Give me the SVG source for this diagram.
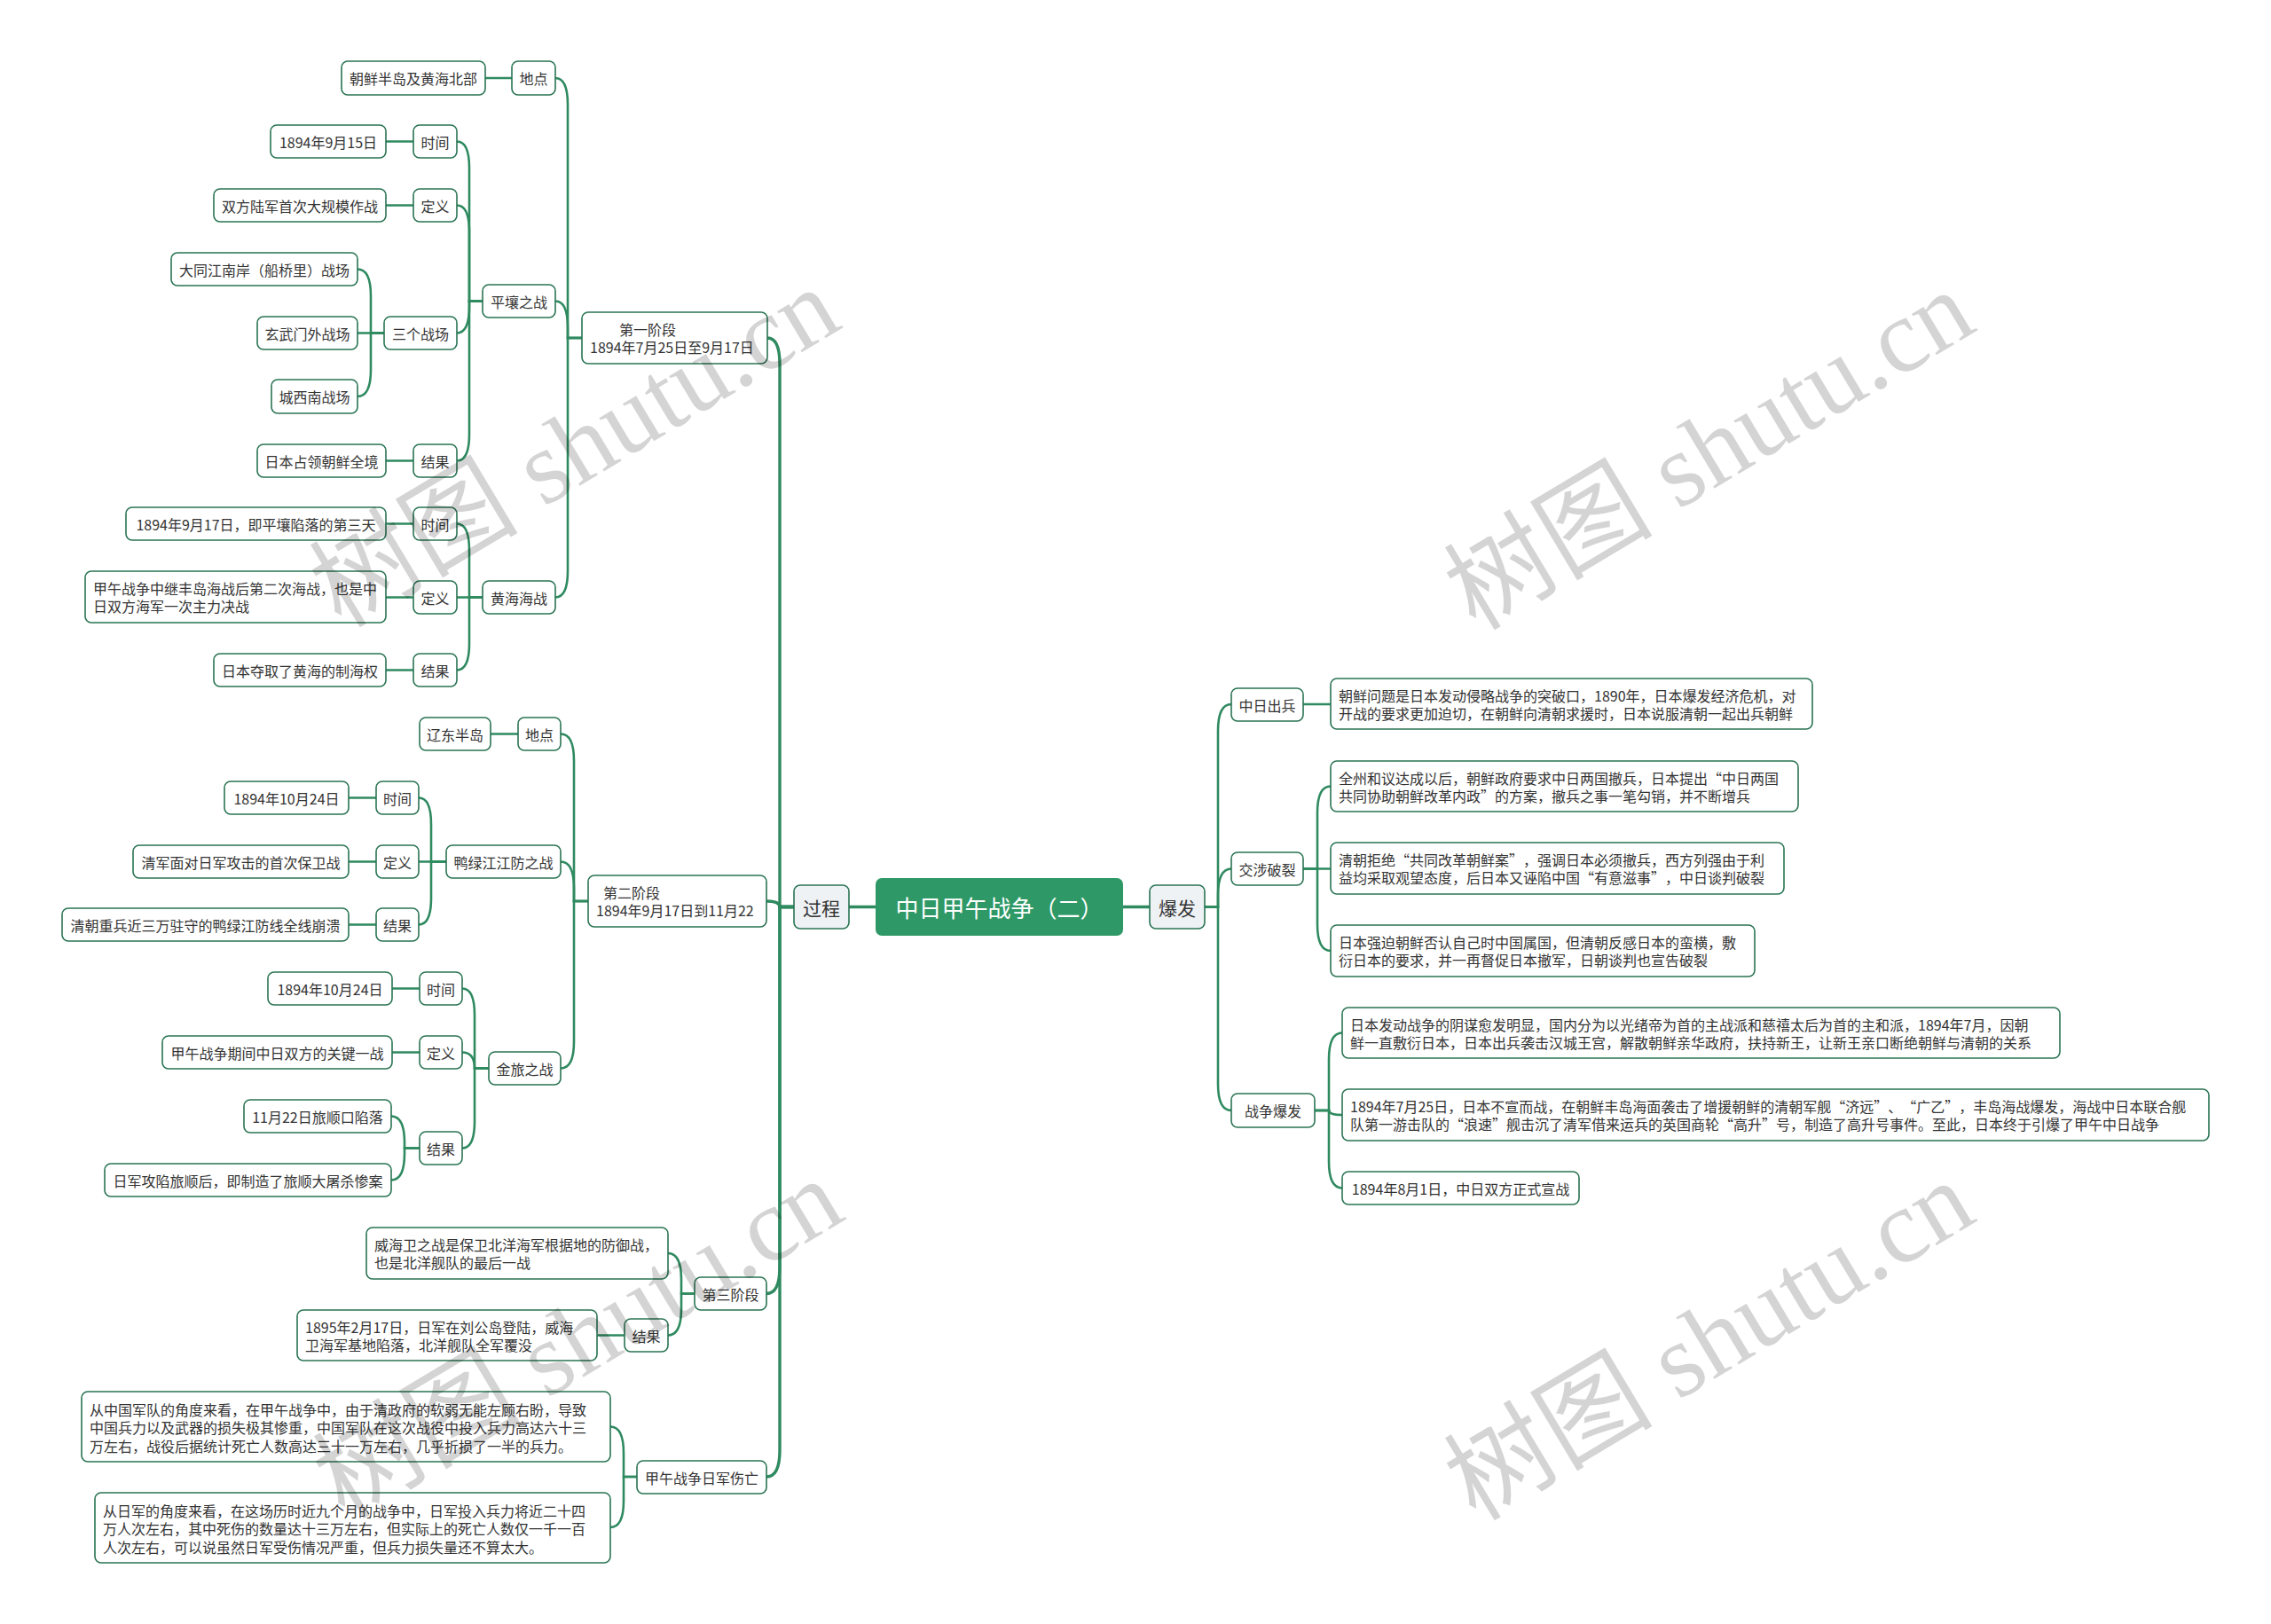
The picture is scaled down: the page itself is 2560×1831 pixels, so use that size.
<svg xmlns="http://www.w3.org/2000/svg" width="2560" height="1831" viewBox="0 0 2560 1831">
<style>
.n{fill:#fff;stroke:#2a7453;stroke-width:1.6}
.g{fill:#eef2f5;stroke:#2a7453;stroke-width:1.6}
.r{fill:#2e9966;stroke:none}
.t{font-family:"Noto Sans CJK SC","Microsoft YaHei",sans-serif;font-size:16px;fill:#333;dominant-baseline:central;text-spacing-trim:space-all}
.c{text-anchor:middle}
.tl{font-size:21px}
.tr{font-size:26px;fill:#fff}
.ln{fill:none;stroke:#2f8a60;stroke-width:2.6;stroke-linecap:round}
.lm{stroke-width:3.4}
.wm{font-family:"Liberation Serif","Noto Sans CJK SC",serif;font-size:118px;fill:#000;fill-opacity:0.17;text-anchor:middle;dominant-baseline:central}
</style>
<rect width="2560" height="1831" fill="#fff"/>
<g id="connectors">
<path class="ln lm" d="M987,1022.5 H957"/>
<path class="ln lm" d="M1266,1022.5 H1296"/>
<path class="ln lm" d="M895,1022.5 H879 V411 Q879,381 865,381"/>
<path class="ln lm" d="M895,1022.5 H879 Q879,1016 864,1016"/>
<path class="ln lm" d="M895,1022.5 H879 V1428.5 Q879,1458.5 864,1458.5"/>
<path class="ln lm" d="M895,1022.5 H879 V1635 Q879,1665 864,1665"/>
<path class="ln" d="M656,381 H640 V118 Q640,88 626,88"/>
<path class="ln" d="M656,381 H640 V369.5 Q640,339.5 626,339.5"/>
<path class="ln" d="M656,381 H640 V643.5 Q640,673.5 626,673.5"/>
<path class="ln" d="M577,88 H547"/>
<path class="ln" d="M544,339.5 H529 V189.5 Q529,159.5 515,159.5"/>
<path class="ln" d="M544,339.5 H529 V261.5 Q529,231.5 515,231.5"/>
<path class="ln" d="M544,339.5 H529 V345.5 Q529,375.5 515,375.5"/>
<path class="ln" d="M544,339.5 H529 V489.5 Q529,519.5 515,519.5"/>
<path class="ln" d="M466,159.5 H435"/>
<path class="ln" d="M466,231.5 H435"/>
<path class="ln" d="M433,375.5 H418 V333.5 Q418,303.5 403,303.5"/>
<path class="ln" d="M433,375.5 H403"/>
<path class="ln" d="M433,375.5 H418 V417 Q418,447 403,447"/>
<path class="ln" d="M466,519.5 H435"/>
<path class="ln" d="M544,673.5 H529 V620.5 Q529,590.5 515,590.5"/>
<path class="ln" d="M544,673.5 H515"/>
<path class="ln" d="M544,673.5 H529 V725.5 Q529,755.5 515,755.5"/>
<path class="ln" d="M466,590.5 H435"/>
<path class="ln" d="M466,673.5 H435"/>
<path class="ln" d="M466,755.5 H435"/>
<path class="ln" d="M663,1016 H647 V857.5 Q647,827.5 632,827.5"/>
<path class="ln" d="M663,1016 H647 V1001.5 Q647,971.5 632,971.5"/>
<path class="ln" d="M663,1016 H647 V1174.5 Q647,1204.5 632,1204.5"/>
<path class="ln" d="M584,827.5 H553"/>
<path class="ln" d="M503,971.5 H486 V929.5 Q486,899.5 472,899.5"/>
<path class="ln" d="M503,971.5 H472"/>
<path class="ln" d="M503,971.5 H486 V1012.5 Q486,1042.5 472,1042.5"/>
<path class="ln" d="M424,899.5 H393"/>
<path class="ln" d="M424,971.5 H393"/>
<path class="ln" d="M424,1042.5 H393"/>
<path class="ln" d="M551,1204.5 H535 V1144.5 Q535,1114.5 521,1114.5"/>
<path class="ln" d="M551,1204.5 H535 Q535,1186.5 521,1186.5"/>
<path class="ln" d="M551,1204.5 H535 V1264.5 Q535,1294.5 521,1294.5"/>
<path class="ln" d="M473,1114.5 H442"/>
<path class="ln" d="M473,1186.5 H442"/>
<path class="ln" d="M473,1294.5 H456 V1288.5 Q456,1258.5 441,1258.5"/>
<path class="ln" d="M473,1294.5 H456 V1300.5 Q456,1330.5 441,1330.5"/>
<path class="ln" d="M783,1458.5 H768 V1443 Q768,1413 753,1413"/>
<path class="ln" d="M783,1458.5 H768 V1475.5 Q768,1505.5 753,1505.5"/>
<path class="ln" d="M704,1505.5 H673"/>
<path class="ln" d="M718,1665 H703 V1638.5 Q703,1608.5 688,1608.5"/>
<path class="ln" d="M718,1665 H703 V1692 Q703,1722 688,1722"/>
<path class="ln" d="M1358,1022.5 H1373 V824 Q1373,794 1388,794"/>
<path class="ln" d="M1358,1022.5 H1373 V1009.5 Q1373,979.5 1388,979.5"/>
<path class="ln" d="M1358,1022.5 H1373 V1222 Q1373,1252 1388,1252"/>
<path class="ln" d="M1469,794 H1500"/>
<path class="ln" d="M1469,979.5 H1485 V916.5 Q1485,886.5 1500,886.5"/>
<path class="ln" d="M1469,979.5 H1500"/>
<path class="ln" d="M1469,979.5 H1485 V1042 Q1485,1072 1500,1072"/>
<path class="ln" d="M1482,1252 H1498 V1194.5 Q1498,1164.5 1513,1164.5"/>
<path class="ln" d="M1482,1252 H1498 Q1498,1257 1513,1257"/>
<path class="ln" d="M1482,1252 H1498 V1309.5 Q1498,1339.5 1513,1339.5"/>
</g>
<g id="root"><rect class="r" x="987" y="990" width="279" height="65" rx="7"/><text class="t tr c" x="1126.5" y="1022.5">中日甲午战争（二）</text></g>
<g id="guocheng"><rect class="g" x="895" y="998" width="62" height="49" rx="7"/><text class="t tl c" x="926" y="1022.5">过程</text></g>
<g id="baofa"><rect class="g" x="1296" y="998" width="62" height="49" rx="7"/><text class="t tl c" x="1327" y="1022.5">爆发</text></g>

<g id="p1"><rect class="n" x="656" y="352" width="209" height="58" rx="7"/><text class="t"><tspan x="698" y="371">第一阶段</tspan><tspan x="665" y="391">1894年7月25日至9月17日</tspan></text></g>
<g id="p1-dd"><rect class="n" x="577" y="69" width="49" height="38" rx="7"/><text class="t c" x="601.5" y="88">地点</text></g>
<g id="p1-dd-1"><rect class="n" x="385" y="69" width="162" height="38" rx="7"/><text class="t c" x="466" y="88">朝鲜半岛及黄海北部</text></g>
<g id="py"><rect class="n" x="544" y="321" width="82" height="37" rx="7"/><text class="t c" x="585" y="339.5">平壤之战</text></g>
<g id="py-sj"><rect class="n" x="466" y="141" width="49" height="37" rx="7"/><text class="t c" x="490.5" y="159.5">时间</text></g>
<g id="py-sj-1"><rect class="n" x="305" y="141" width="130" height="37" rx="7"/><text class="t c" x="370" y="159.5">1894年9月15日</text></g>
<g id="py-dy"><rect class="n" x="466" y="213" width="49" height="37" rx="7"/><text class="t c" x="490.5" y="231.5">定义</text></g>
<g id="py-dy-1"><rect class="n" x="241" y="213" width="194" height="37" rx="7"/><text class="t c" x="338" y="231.5">双方陆军首次大规模作战</text></g>
<g id="py-zc"><rect class="n" x="433" y="357" width="82" height="37" rx="7"/><text class="t c" x="474" y="375.5">三个战场</text></g>
<g id="py-zc-1"><rect class="n" x="193" y="285" width="210" height="37" rx="7"/><text class="t c" x="298" y="303.5">大同江南岸（船桥里）战场</text></g>
<g id="py-zc-2"><rect class="n" x="290" y="357" width="113" height="37" rx="7"/><text class="t c" x="346.5" y="375.5">玄武门外战场</text></g>
<g id="py-zc-3"><rect class="n" x="306" y="428" width="97" height="38" rx="7"/><text class="t c" x="354.5" y="447">城西南战场</text></g>
<g id="py-jg"><rect class="n" x="466" y="501" width="49" height="37" rx="7"/><text class="t c" x="490.5" y="519.5">结果</text></g>
<g id="py-jg-1"><rect class="n" x="290" y="501" width="145" height="37" rx="7"/><text class="t c" x="362.5" y="519.5">日本占领朝鲜全境</text></g>
<g id="hh"><rect class="n" x="544" y="655" width="82" height="37" rx="7"/><text class="t c" x="585" y="673.5">黄海海战</text></g>
<g id="hh-sj"><rect class="n" x="466" y="572" width="49" height="37" rx="7"/><text class="t c" x="490.5" y="590.5">时间</text></g>
<g id="hh-sj-1"><rect class="n" x="142" y="572" width="293" height="37" rx="7"/><text class="t c" x="288.5" y="590.5">1894年9月17日，即平壤陷落的第三天</text></g>
<g id="hh-dy"><rect class="n" x="466" y="655" width="49" height="37" rx="7"/><text class="t c" x="490.5" y="673.5">定义</text></g>
<g id="hh-dy-1"><rect class="n" x="96" y="644" width="339" height="58" rx="7"/><text class="t"><tspan x="105" y="663">甲午战争中继丰岛海战后第二次海战，也是中</tspan><tspan x="105" y="683">日双方海军一次主力决战</tspan></text></g>
<g id="hh-jg"><rect class="n" x="466" y="737" width="49" height="37" rx="7"/><text class="t c" x="490.5" y="755.5">结果</text></g>
<g id="hh-jg-1"><rect class="n" x="241" y="737" width="194" height="37" rx="7"/><text class="t c" x="338" y="755.5">日本夺取了黄海的制海权</text></g>

<g id="p2"><rect class="n" x="663" y="987" width="201" height="58" rx="7"/><text class="t"><tspan x="680" y="1006">第二阶段</tspan><tspan x="672" y="1026">1894年9月17日到11月22</tspan></text></g>
<g id="p2-dd"><rect class="n" x="584" y="809" width="48" height="37" rx="7"/><text class="t c" x="608" y="827.5">地点</text></g>
<g id="p2-dd-1"><rect class="n" x="473" y="809" width="80" height="37" rx="7"/><text class="t c" x="513" y="827.5">辽东半岛</text></g>
<g id="yl"><rect class="n" x="503" y="953" width="129" height="37" rx="7"/><text class="t c" x="567.5" y="971.5">鸭绿江江防之战</text></g>
<g id="yl-sj"><rect class="n" x="424" y="881" width="48" height="37" rx="7"/><text class="t c" x="448" y="899.5">时间</text></g>
<g id="yl-sj-1"><rect class="n" x="253" y="881" width="140" height="37" rx="7"/><text class="t c" x="323" y="899.5">1894年10月24日</text></g>
<g id="yl-dy"><rect class="n" x="424" y="953" width="48" height="37" rx="7"/><text class="t c" x="448" y="971.5">定义</text></g>
<g id="yl-dy-1"><rect class="n" x="150" y="953" width="243" height="37" rx="7"/><text class="t c" x="271.5" y="971.5">清军面对日军攻击的首次保卫战</text></g>
<g id="yl-jg"><rect class="n" x="424" y="1024" width="48" height="37" rx="7"/><text class="t c" x="448" y="1042.5">结果</text></g>
<g id="yl-jg-1"><rect class="n" x="70" y="1024" width="323" height="37" rx="7"/><text class="t c" x="231.5" y="1042.5">清朝重兵近三万驻守的鸭绿江防线全线崩溃</text></g>
<g id="jl"><rect class="n" x="551" y="1186" width="81" height="37" rx="7"/><text class="t c" x="591.5" y="1204.5">金旅之战</text></g>
<g id="jl-sj"><rect class="n" x="473" y="1096" width="48" height="37" rx="7"/><text class="t c" x="497" y="1114.5">时间</text></g>
<g id="jl-sj-1"><rect class="n" x="302" y="1096" width="140" height="37" rx="7"/><text class="t c" x="372" y="1114.5">1894年10月24日</text></g>
<g id="jl-dy"><rect class="n" x="473" y="1168" width="48" height="37" rx="7"/><text class="t c" x="497" y="1186.5">定义</text></g>
<g id="jl-dy-1"><rect class="n" x="183" y="1168" width="259" height="37" rx="7"/><text class="t c" x="312.5" y="1186.5">甲午战争期间中日双方的关键一战</text></g>
<g id="jl-jg"><rect class="n" x="473" y="1276" width="48" height="37" rx="7"/><text class="t c" x="497" y="1294.5">结果</text></g>
<g id="jl-jg-1"><rect class="n" x="275" y="1240" width="166" height="37" rx="7"/><text class="t c" x="358" y="1258.5">11月22日旅顺口陷落</text></g>
<g id="jl-jg-2"><rect class="n" x="118" y="1312" width="323" height="37" rx="7"/><text class="t c" x="279.5" y="1330.5">日军攻陷旅顺后，即制造了旅顺大屠杀惨案</text></g>

<g id="p3"><rect class="n" x="783" y="1440" width="81" height="37" rx="7"/><text class="t c" x="823.5" y="1458.5">第三阶段</text></g>
<g id="p3-1"><rect class="n" x="413" y="1384" width="340" height="58" rx="7"/><text class="t"><tspan x="422" y="1403">威海卫之战是保卫北洋海军根据地的防御战，</tspan><tspan x="422" y="1423">也是北洋舰队的最后一战</tspan></text></g>
<g id="p3-jg"><rect class="n" x="704" y="1487" width="49" height="37" rx="7"/><text class="t c" x="728.5" y="1505.5">结果</text></g>
<g id="p3-jg-1"><rect class="n" x="335" y="1477" width="338" height="57" rx="7"/><text class="t"><tspan x="344" y="1495.5">1895年2月17日，日军在刘公岛登陆，威海</tspan><tspan x="344" y="1515.5">卫海军基地陷落，北洋舰队全军覆没</tspan></text></g>
<g id="sw"><rect class="n" x="718" y="1647" width="146" height="37" rx="7"/><text class="t c" x="791" y="1665.5">甲午战争日军伤亡</text></g>
<g id="sw-1"><rect class="n" x="92" y="1569" width="596" height="79" rx="7"/><text class="t"><tspan x="101" y="1588.5">从中国军队的角度来看，在甲午战争中，由于清政府的软弱无能左顾右盼，导致</tspan><tspan x="101" y="1609">中国兵力以及武器的损失极其惨重，中国军队在这次战役中投入兵力高达六十三</tspan><tspan x="101" y="1629.5">万左右，战役后据统计死亡人数高达三十一万左右，几乎折损了一半的兵力。</tspan></text></g>
<g id="sw-2"><rect class="n" x="107" y="1683" width="581" height="79" rx="7"/><text class="t"><tspan x="116" y="1702.5">从日军的角度来看，在这场历时近九个月的战争中，日军投入兵力将近二十四</tspan><tspan x="116" y="1723">万人次左右，其中死伤的数量达十三万左右，但实际上的死亡人数仅一千一百</tspan><tspan x="116" y="1743.5">人次左右，可以说虽然日军受伤情况严重，但兵力损失量还不算太大。</tspan></text></g>

<g id="zrcb"><rect class="n" x="1388" y="776" width="81" height="37" rx="7"/><text class="t c" x="1428.5" y="794.5">中日出兵</text></g>
<g id="zrcb-1"><rect class="n" x="1500" y="765" width="543" height="57" rx="7"/><text class="t"><tspan x="1509" y="783.5">朝鲜问题是日本发动侵略战争的突破口，1890年，日本爆发经济危机，对</tspan><tspan x="1509" y="803.5">开战的要求更加迫切，在朝鲜向清朝求援时，日本说服清朝一起出兵朝鲜</tspan></text></g>
<g id="jspl"><rect class="n" x="1388" y="961" width="81" height="37" rx="7"/><text class="t c" x="1428.5" y="979.5">交涉破裂</text></g>
<g id="jspl-1"><rect class="n" x="1500" y="858" width="527" height="57" rx="7"/><text class="t"><tspan x="1509" y="876.5">全州和议达成以后，朝鲜政府要求中日两国撤兵，日本提出“中日两国</tspan><tspan x="1509" y="896.5">共同协助朝鲜改革内政”的方案，撤兵之事一笔勾销，并不断增兵</tspan></text></g>
<g id="jspl-2"><rect class="n" x="1500" y="950" width="511" height="58" rx="7"/><text class="t"><tspan x="1509" y="969">清朝拒绝“共同改革朝鲜案”，强调日本必须撤兵，西方列强由于利</tspan><tspan x="1509" y="989">益均采取观望态度，后日本又诬陷中国“有意滋事”，中日谈判破裂</tspan></text></g>
<g id="jspl-3"><rect class="n" x="1500" y="1043" width="478" height="58" rx="7"/><text class="t"><tspan x="1509" y="1062">日本强迫朝鲜否认自己时中国属国，但清朝反感日本的蛮横，敷</tspan><tspan x="1509" y="1082">衍日本的要求，并一再督促日本撤军，日朝谈判也宣告破裂</tspan></text></g>
<g id="zzbf"><rect class="n" x="1388" y="1233" width="94" height="38" rx="7"/><text class="t c" x="1435" y="1252">战争爆发</text></g>
<g id="zzbf-1"><rect class="n" x="1513" y="1136" width="809" height="57" rx="7"/><text class="t"><tspan x="1522" y="1154.5">日本发动战争的阴谋愈发明显，国内分为以光绪帝为首的主战派和慈禧太后为首的主和派，1894年7月，因朝</tspan><tspan x="1522" y="1174.5">鲜一直敷衍日本，日本出兵袭击汉城王宫，解散朝鲜亲华政府，扶持新王，让新王亲口断绝朝鲜与清朝的关系</tspan></text></g>
<g id="zzbf-2"><rect class="n" x="1513" y="1228" width="977" height="58" rx="7"/><text class="t"><tspan x="1522" y="1247">1894年7月25日，日本不宣而战，在朝鲜丰岛海面袭击了增援朝鲜的清朝军舰“济远”、“广乙”，丰岛海战爆发，海战中日本联合舰</tspan><tspan x="1522" y="1267">队第一游击队的“浪速”舰击沉了清军借来运兵的英国商轮“高升”号，制造了高升号事件。至此，日本终于引爆了甲午中日战争</tspan></text></g>
<g id="zzbf-3"><rect class="n" x="1513" y="1321" width="267" height="37" rx="7"/><text class="t c" x="1646.5" y="1339.5">1894年8月1日，中日双方正式宣战</text></g>

<g id="watermarks">
<text class="wm" transform="translate(648,505) rotate(-31)">树图 shutu.cn</text>
<text class="wm" transform="translate(1927,508) rotate(-31)">树图 shutu.cn</text>
<text class="wm" transform="translate(652,1510) rotate(-31)">树图 shutu.cn</text>
<text class="wm" transform="translate(1927,1512) rotate(-31)">树图 shutu.cn</text>
</g>
</svg>
